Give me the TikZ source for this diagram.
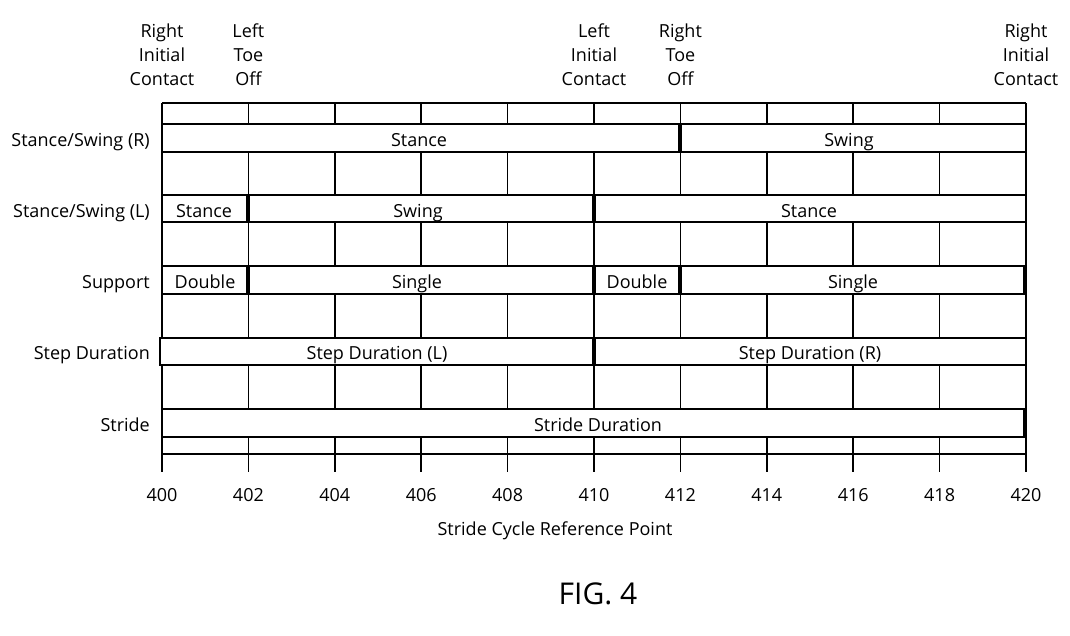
\documentclass[tikz,border=0pt]{standalone}
\usepackage{fontspec}
\setmainfont{Open Sans}
\usetikzlibrary{positioning}
\tikzstyle{event} = [align=center, inner sep=0pt, font=\fontsize{18}{24}\selectfont]
\tikzstyle{rowlabel} = [anchor=east, inner sep=0pt, text height=15pt, text depth=1pt, font=\fontsize{18}{20}\selectfont]
\tikzstyle{seglabel} = [inner sep=0pt, text height=15pt, text depth=1pt, font=\fontsize{18}{20}\selectfont]
\tikzstyle{gridline} = [line width=1.7pt]
\tikzstyle{divider} = [line width=4pt]

\begin{document}
\begin{tikzpicture}[x=1pt, y=-1pt]
\useasboundingbox (0,0) rectangle (1070,635);

% events above the chart
\node[event] (rightIC) at (162,55) {Right\\Initial\\Contact};
\node[event] (leftTO) at (248.4,55) {Left\\Toe\\Off};
\node[event] (leftIC) at (594,55) {Left\\Initial\\Contact};
\node[event] (rightTO) at (680.4,55) {Right\\Toe\\Off};
\node[event] (rightIC2) at (1026,55) {Right\\Initial\\Contact};

% frame lines
\draw[gridline] (162,103) -- (1026,103);
\draw[gridline] (162,454) -- (1026,454);
\foreach \top/\bot in {124/152, 195/222, 266/294, 409/437}
  \draw[gridline] (162,\top) rectangle (1026,\bot);
\draw[gridline] (160,338) rectangle (1026,365);

% column lines between the bars
\foreach \v in {400,402,...,420}
  \foreach \a/\b in {103/124, 152/195, 222/266, 294/338, 365/409, 437/472}
    \draw[gridline] ({162+43.2*(\v-400)},\a) -- ({162+43.2*(\v-400)},\b);

% phase changes
\draw[divider] (680.4,124) -- (680.4,152);
\draw[divider] (248.4,195) -- (248.4,222);
\draw[divider] (594,195) -- (594,222);
\draw[divider] (248.4,266) -- (248.4,294);
\draw[divider] (594,266) -- (594,294);
\draw[divider] (680.4,266) -- (680.4,294);
\draw[divider] (1025,266) -- (1025,294);
\draw[divider] (594,338) -- (594,365);
\draw[divider] (1025,409) -- (1025,437);

% row names
\node[rowlabel] (rowR) at (150,139) {Stance/Swing (R)};
\node[rowlabel] (rowL) at (150,210) {Stance/Swing (L)};
\node[rowlabel] (rowSupport) at (150,281) {Support};
\node[rowlabel] (rowStep) at (150,352) {Step Duration};
\node[rowlabel] (rowStride) at (150,424) {Stride};

% bar texts
\node[seglabel] (rStance) at (419,139) {Stance};
\node[seglabel] (rSwing) at (849,139) {Swing};
\node[seglabel] (lStance) at (204,210) {Stance};
\node[seglabel] (lSwing) at (418,210) {Swing};
\node[seglabel] (lStance2) at (809,210) {Stance};
\node[seglabel] (double1) at (205,281) {Double};
\node[seglabel] (single1) at (417,281) {Single};
\node[seglabel] (double2) at (637,281) {Double};
\node[seglabel] (single2) at (853,281) {Single};
\node[seglabel] (stepL) at (377,352) {Step Duration (L)};
\node[seglabel] (stepR) at (810,352) {Step Duration (R)};
\node[seglabel] (stride) at (598,424) {Stride Duration};

% axis
\foreach \v in {400,402,...,420}
  \node[seglabel] (tick\v) at ({162+43.2*(\v-400)},494) {\v};
\node[seglabel] (axisname) at (555,528) {Stride Cycle Reference Point};
\node[inner sep=0pt, font=\fontsize{30}{34}\selectfont] (fig) at (598,594) {FIG. 4};
\end{tikzpicture}
\end{document}
